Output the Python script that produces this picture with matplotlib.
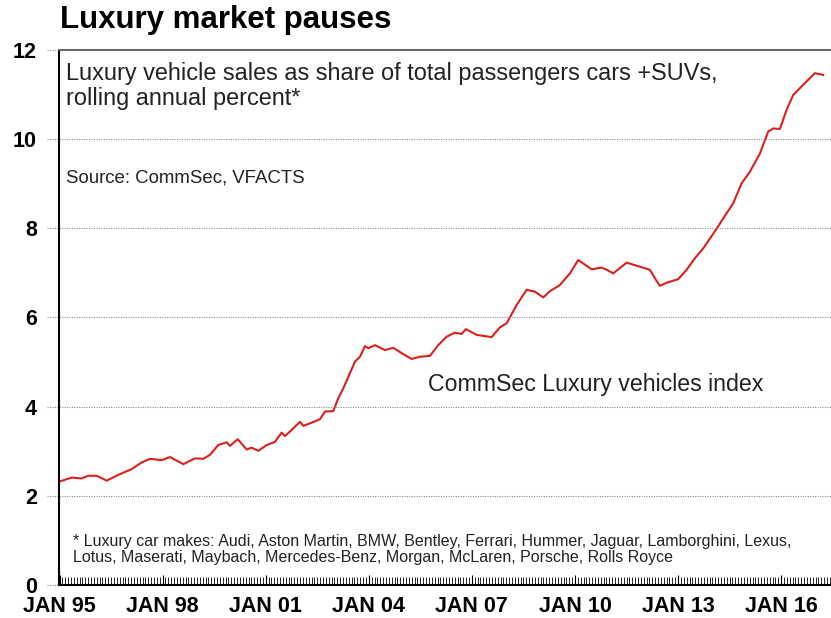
import numpy as np
import matplotlib.pyplot as plt
from matplotlib.ticker import MultipleLocator

# CommSec luxury vehicles index (decimal year, percent)
years = [1995.0, 1995.355, 1995.646, 1995.838, 1996.082, 1996.373, 1996.711, 1997.101,
         1997.392, 1997.633, 1997.974, 1998.215, 1998.602, 1998.942, 1999.184, 1999.379,
         1999.620, 1999.865, 1999.961, 2000.185, 2000.447, 2000.592, 2000.784, 2001.029,
         2001.270, 2001.465, 2001.561, 2001.756, 2001.997, 2002.093, 2002.338, 2002.579,
         2002.725, 2002.966, 2003.112, 2003.257, 2003.598, 2003.743, 2003.889, 2003.985,
         2004.180, 2004.471, 2004.712, 2004.957, 2005.248, 2005.489, 2005.780, 2006.021,
         2006.266, 2006.507, 2006.702, 2006.827, 2007.138, 2007.575, 2007.816, 2008.011,
         2008.302, 2008.593, 2008.835, 2009.076, 2009.271, 2009.562, 2009.853, 2010.095,
         2010.484, 2010.775, 2010.921, 2011.113, 2011.503, 2011.890, 2012.181, 2012.326,
         2012.472, 2012.667, 2013.004, 2013.248, 2013.490, 2013.731, 2014.121, 2014.412,
         2014.604, 2014.849, 2015.090, 2015.382, 2015.623, 2015.768, 2015.963, 2016.158,
         2016.350, 2016.640, 2016.981, 2017.222]
share = [2.32, 2.41, 2.39, 2.45, 2.45, 2.34, 2.47, 2.60,
         2.75, 2.83, 2.80, 2.87, 2.71, 2.84, 2.83, 2.92,
         3.14, 3.20, 3.12, 3.27, 3.04, 3.08, 3.01, 3.14,
         3.21, 3.42, 3.34, 3.48, 3.66, 3.57, 3.64, 3.72,
         3.89, 3.90, 4.19, 4.41, 5.01, 5.12, 5.36, 5.31,
         5.38, 5.27, 5.32, 5.20, 5.07, 5.12, 5.14, 5.38,
         5.57, 5.66, 5.63, 5.74, 5.61, 5.56, 5.78, 5.87,
         6.28, 6.62, 6.58, 6.45, 6.59, 6.73, 6.99, 7.29,
         7.08, 7.12, 7.07, 6.99, 7.23, 7.14, 7.07, 6.88,
         6.71, 6.78, 6.86, 7.07, 7.33, 7.55, 7.99, 8.34,
         8.56, 9.01, 9.27, 9.68, 10.17, 10.24, 10.23, 10.66,
         10.99, 11.22, 11.48, 11.44]

tick_years = [1995, 1998, 2001, 2004, 2007, 2010, 2013, 2016]
tick_labels = ['JAN 95', 'JAN 98', 'JAN 01', 'JAN 04', 'JAN 07', 'JAN 10', 'JAN 13', 'JAN 16']
y_ticks = [0, 2, 4, 6, 8, 10, 12]

plt.rcParams['font.family'] = ['Liberation Sans', 'DejaVu Sans']

fig = plt.figure(figsize=(8.31, 6.18), dpi=100)
ax = fig.add_axes([0.071, 0.0534, 0.929, 0.8657])

ax.plot(years, share, color='#dc1f1a', lw=1.5)

ax.set_xlim(1994.985, 2017.45)
ax.set_ylim(0, 12)

# dotted grid, running a bit past the left axis
ax.hlines(y_ticks[1:-1], -0.015, 1, transform=ax.get_yaxis_transform(),
          colors='#8c8c8c', linestyles=(0, (1, 1.2)), lw=0.8, clip_on=False)
ax.hlines([0, 12], -0.015, 0, transform=ax.get_yaxis_transform(),
          colors='#8c8c8c', linestyles=(0, (1, 1.2)), lw=0.8, clip_on=False)

ax.spines['right'].set_visible(False)
ax.spines['top'].set_color('#666666')
ax.spines['top'].set_linewidth(1.5)
ax.spines['left'].set_linewidth(1.5)
ax.spines['bottom'].set_linewidth(1.5)

ax.set_yticks(y_ticks)
ax.set_yticklabels([str(v) for v in y_ticks], fontsize=15.5, fontweight='bold')
ax.tick_params(axis='y', length=0, pad=16)

ax.set_xticks(tick_years)
ax.set_xticklabels(tick_labels, fontsize=15.5, fontweight='bold')
ax.xaxis.set_minor_locator(MultipleLocator(1 / 12))
ax.tick_params(axis='x', which='major', direction='in', length=7, width=0.8, pad=8)
ax.tick_params(axis='x', which='minor', direction='in', length=6, width=0.6)

fig.text(0.072, 0.992, 'Luxury market pauses', fontsize=22.5, fontweight='bold',
         va='top', ha='left')
ax.text(0.009, 0.978, 'Luxury vehicle sales as share of total passengers cars +SUVs,\n'
        'rolling annual percent*', transform=ax.transAxes, fontsize=16.9,
        va='top', ha='left', color='#222222', linespacing=1.1)
ax.text(0.009, 0.761, 'Source: CommSec, VFACTS', transform=ax.transAxes,
        fontsize=13.4, va='center', ha='left', color='#222222')
ax.text(2005.72, 4.5, 'CommSec Luxury vehicles index', fontsize=16.7,
        va='center', ha='left', color='#222222')
ax.text(0.018, 0.066, '* Luxury car makes: Audi, Aston Martin, BMW, Bentley, Ferrari, '
        'Hummer, Jaguar, Lamborghini, Lexus,\nLotus, Maserati, Maybach, Mercedes-Benz, '
        'Morgan, McLaren, Porsche, Rolls Royce', transform=ax.transAxes,
        fontsize=11.5, va='center', ha='left', color='#222222', linespacing=1.1)

fig.savefig('out.png', dpi=100)
